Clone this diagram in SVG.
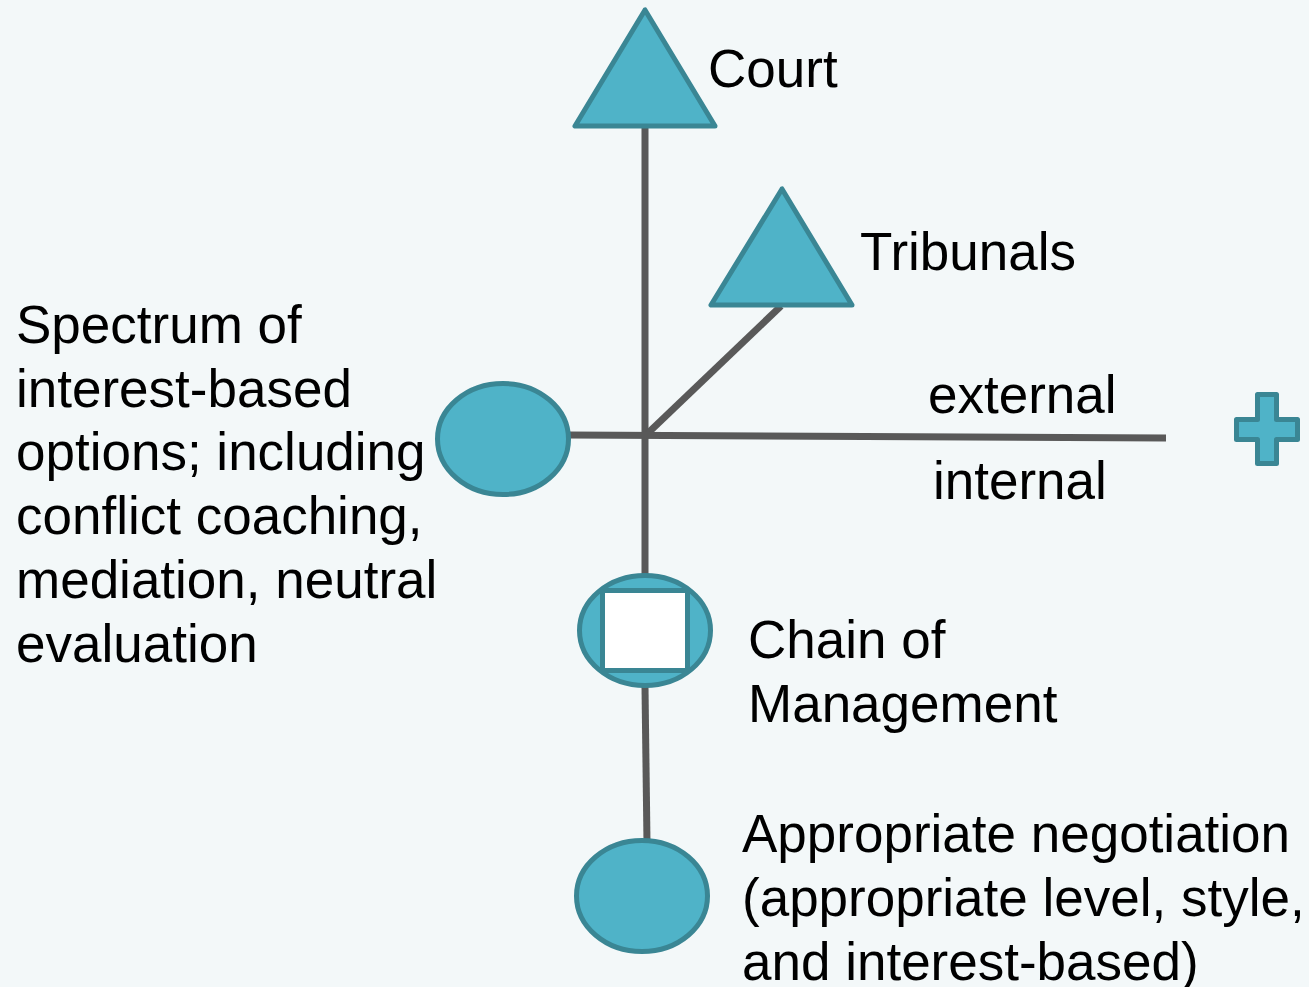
<svg xmlns="http://www.w3.org/2000/svg" width="1309" height="987" viewBox="0 0 1309 987">
  <style>
    .shape { fill: #4fb3c8; stroke: #3a8694; stroke-width: 5; stroke-linejoin: round; }
    .link { stroke: #595959; stroke-width: 7; fill: none; }
    .label { font-family: "Liberation Sans", Arial, sans-serif; font-size: 53px; fill: #000; }
  </style>
  <rect width="1309" height="987" fill="#f3f8f9"/>

  <g id="connectors">
    <line class="link" x1="645" y1="125" x2="645" y2="576"/>
    <line class="link" x1="647" y1="434" x2="781" y2="306"/>
    <line class="link" x1="568" y1="435" x2="1166" y2="438"/>
    <line class="link" x1="645" y1="687" x2="647" y2="843"/>
  </g>

  <g id="court">
    <polygon class="shape" points="645,10 575,126 715,126"/>
    <text class="label" x="708" y="87">Court</text>
  </g>

  <g id="tribunals">
    <polygon class="shape" points="782,189 711,305 852,305"/>
    <text class="label" x="860" y="270">Tribunals</text>
  </g>

  <g id="spectrum">
    <ellipse class="shape" cx="503" cy="439" rx="65.5" ry="55.5"/>
    <text class="label" x="16">
      <tspan x="16" y="343">Spectrum of</tspan>
      <tspan x="16" y="407">interest-based</tspan>
      <tspan x="16" y="470">options; including</tspan>
      <tspan x="16" y="534">conflict coaching,</tspan>
      <tspan x="16" y="598">mediation, neutral</tspan>
      <tspan x="16" y="662">evaluation</tspan>
    </text>
  </g>

  <g id="boundary-labels">
    <text class="label" x="928" y="413">external</text>
    <text class="label" x="933" y="499">internal</text>
  </g>

  <g id="plus">
    <path class="shape" d="M1257.5,394.5 H1276.5 V419.5 H1297.5 V439.5 H1276.5 V463.5 H1257.5 V439.5 H1236.5 V419.5 H1257.5 Z"/>
  </g>

  <g id="chain-of-management">
    <ellipse class="shape" cx="645" cy="630.5" rx="65.5" ry="55"/>
    <rect x="602.5" y="590.5" width="85" height="80" fill="#ffffff" stroke="#3a8694" stroke-width="5"/>
    <text class="label">
      <tspan x="748" y="658">Chain of</tspan>
      <tspan x="748" y="722">Management</tspan>
    </text>
  </g>

  <g id="negotiation">
    <ellipse class="shape" cx="642" cy="896" rx="65.5" ry="55.5"/>
    <text class="label">
      <tspan x="742" y="852">Appropriate negotiation</tspan>
      <tspan x="742" y="916">(appropriate level, style,</tspan>
      <tspan x="742" y="980">and interest-based)</tspan>
    </text>
  </g>
</svg>
